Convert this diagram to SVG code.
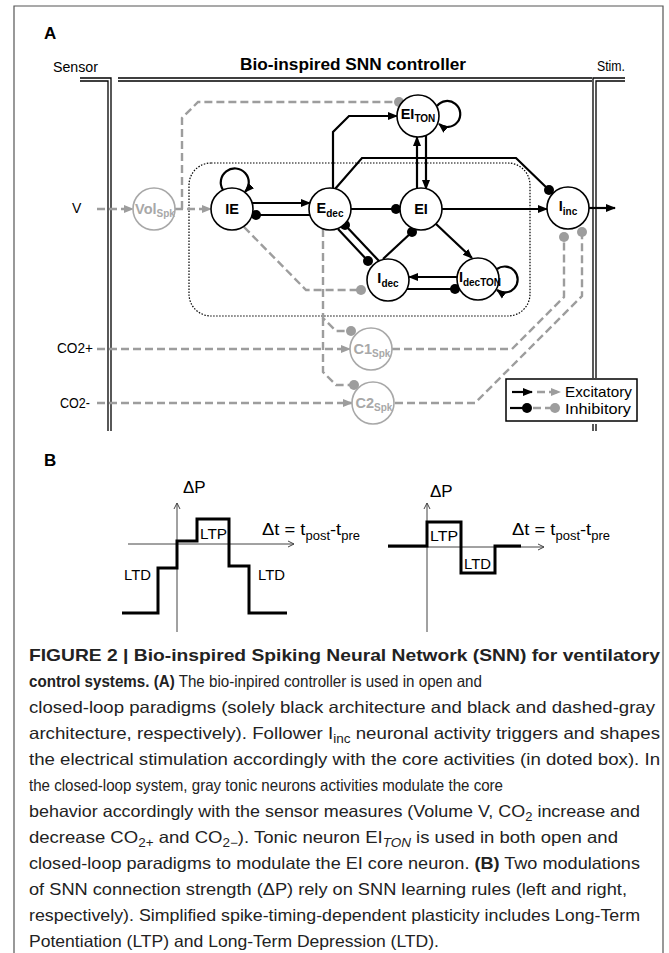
<svg xmlns="http://www.w3.org/2000/svg" width="669" height="953" viewBox="0 0 669 953">
<defs>
<style>
text{font-family:"Liberation Sans",Arial,sans-serif;}
.k{stroke:#000;stroke-width:2.2;fill:none}
.g{stroke:#9d9d9d;stroke-width:2.4;fill:none;stroke-dasharray:8 4}
.n{fill:#fff;stroke:#000;stroke-width:1.6}
.gn{fill:#fff;stroke:#a8a8a8;stroke-width:1.6}
.nl{font-weight:bold;font-size:14.5px;text-anchor:middle;fill:#000}
.gl{font-weight:bold;font-size:14.5px;text-anchor:middle;fill:#a8a8a8}
.sb{font-size:10px}
.dl{stroke:#000;stroke-width:1.3;fill:none}
.ax{stroke:#444;stroke-width:1;fill:none}
.st{stroke:#000;stroke-width:3;fill:none}
.lb{font-size:14px;fill:#000}
.cap{font-size:16.5px;fill:#222}
</style>
<marker id="ak" viewBox="0 0 10 10" refX="9" refY="5" markerWidth="10" markerHeight="10" markerUnits="userSpaceOnUse" orient="auto"><path d="M0 1 L10 5 L0 9 z" fill="#000"/></marker>
<marker id="ag" viewBox="0 0 10 10" refX="9" refY="5" markerWidth="10" markerHeight="10" markerUnits="userSpaceOnUse" orient="auto"><path d="M0 1 L10 5 L0 9 z" fill="#9d9d9d"/></marker>
<marker id="dk" viewBox="0 0 10 10" refX="5" refY="5" markerWidth="10" markerHeight="10" markerUnits="userSpaceOnUse"><circle cx="5" cy="5" r="5" fill="#000"/></marker>
<marker id="dg" viewBox="0 0 10 10" refX="5" refY="5" markerWidth="10" markerHeight="10" markerUnits="userSpaceOnUse"><circle cx="5" cy="5" r="5" fill="#9d9d9d"/></marker>
<marker id="ch" viewBox="0 0 8 8" refX="7" refY="4" markerWidth="8" markerHeight="8" markerUnits="userSpaceOnUse" orient="auto"><path d="M1 1 L7 4 L1 7" fill="none" stroke="#444" stroke-width="1"/></marker>
</defs>
<rect width="669" height="953" fill="#fff"/>
<path d="M14 953 V6 H663 V953" fill="none" stroke="#555" stroke-width="1.2"/>

<text x="44" y="39" font-weight="bold" font-size="17">A</text>
<text x="44" y="466" font-weight="bold" font-size="17">B</text>

<g id="frame">
<text class="lb" x="53" y="72" textLength="45" lengthAdjust="spacingAndGlyphs">Sensor</text>
<text class="lb" x="597" y="71" textLength="28" lengthAdjust="spacingAndGlyphs">Stim.</text>
<text x="240" y="70" font-weight="bold" font-size="16" textLength="226" lengthAdjust="spacingAndGlyphs">Bio-inspired SNN controller</text>
<path class="dl" d="M80 78 H111 V431 M80 81 H108 V431"/>
<path class="dl" d="M118 78 H592 M118 81 H592"/>
<path class="dl" d="M625 78 H593 V378 M625 81 H596 V378"/>
<path class="dl" d="M593 424 V431 M596 424 V431"/>
<text class="lb" x="72" y="213">V</text>
<text class="lb" x="57" y="353" textLength="36" lengthAdjust="spacingAndGlyphs">CO2+</text>
<text class="lb" x="60" y="408" textLength="30" lengthAdjust="spacingAndGlyphs">CO2-</text>
<rect x="189" y="163" width="341" height="153" rx="22" fill="none" stroke="#000" stroke-width="1.2" stroke-dasharray="1.5 1.5"/>
</g>

<g id="connectors">
<path class="k" d="M252 203 H310" marker-end="url(#ak)"/>
<path class="k" d="M310 215 H256" marker-end="url(#dk)"/>
<path class="k" d="M223 190 A14 14 0 1 1 245 192" marker-end="url(#ak)"/>
<path class="k" d="M333 188 V132 L349 116 H397" marker-end="url(#ak)"/>
<path class="k" d="M335 189 L362 158 H516 L549 190" marker-end="url(#dk)"/>
<path class="k" d="M351 209 H396" marker-end="url(#dk)"/>
<path class="k" d="M338 229 L368 261" marker-end="url(#dk)"/>
<path class="k" d="M379 261 L345 225" marker-end="url(#dk)"/>
<path class="k" d="M383 259 L412 232" marker-end="url(#dk)"/>
<path class="k" d="M436 224 L472 258" marker-end="url(#ak)"/>
<path class="k" d="M457 277 H409" marker-end="url(#ak)"/>
<path class="k" d="M407 289 H455" marker-end="url(#dk)"/>
<path class="k" d="M497 269 A13 13 0 1 1 497 290" marker-end="url(#ak)"/>
<path class="k" d="M417 189 V137" marker-end="url(#ak)"/>
<path class="k" d="M426 136 V189" marker-end="url(#ak)"/>
<path class="k" d="M437 106 A13 13 0 1 1 439 124" marker-end="url(#ak)"/>
<path class="k" d="M442 209 H547" marker-end="url(#ak)"/>
<path class="k" d="M589 208 H615" marker-end="url(#ak)"/>

<path class="g" d="M97 209 H133" marker-end="url(#ag)"/>
<path class="g" d="M175 209 H211" marker-end="url(#ag)"/>
<path class="g" d="M182 209 V118 L198 102 H399" marker-end="url(#dg)"/>
<path class="g" d="M244 227 L306 290 H361" marker-end="url(#dg)"/>
<path class="g" d="M323 229 V318 L336 331 H351" marker-end="url(#dg)"/>
<path class="g" d="M323 318 V372 L336 385 H354" marker-end="url(#dg)"/>
<path class="g" d="M97 349 H350" marker-end="url(#ag)"/>
<path class="g" d="M97 403 H352" marker-end="url(#ag)"/>
<path class="g" d="M392 349 H512 L564 297 V237" marker-end="url(#dg)"/>
<path class="g" d="M395 403 H475 L582 296 V232" marker-end="url(#dg)"/>
</g>

<g id="VolSpk"><circle class="gn" cx="154" cy="209" r="21"/><text class="gl" x="155" y="214">Vol<tspan class="sb" dy="3">Spk</tspan></text></g>
<g id="IE"><circle class="n" cx="232" cy="209" r="21"/><text class="nl" x="232" y="214">IE</text></g>
<g id="Edec"><circle class="n" cx="330" cy="209" r="21"/><text class="nl" x="330" y="213">E<tspan class="sb" dy="4">dec</tspan></text></g>
<g id="EI"><circle class="n" cx="421" cy="209" r="21"/><text class="nl" x="421" y="214">EI</text></g>
<g id="EITON"><circle class="n" cx="418" cy="116" r="21"/><text class="nl" x="418" y="119">EI<tspan class="sb" dy="3">TON</tspan></text></g>
<g id="Iinc"><circle class="n" cx="568" cy="208" r="21"/><text class="nl" x="568" y="211">I<tspan class="sb" dy="4">inc</tspan></text></g>
<g id="Idec"><circle class="n" cx="388" cy="280" r="21"/><text class="nl" x="388" y="283">I<tspan class="sb" dy="4">dec</tspan></text></g>
<g id="IdecTON"><circle class="n" cx="478" cy="279" r="21"/><text class="nl" x="480" y="282">I<tspan class="sb" dy="4">decTON</tspan></text></g>
<g id="C1Spk"><circle class="gn" cx="371" cy="349" r="21"/><text class="gl" x="372" y="354">C1<tspan class="sb" dy="3">Spk</tspan></text></g>
<g id="C2Spk"><circle class="gn" cx="373" cy="403" r="21"/><text class="gl" x="374" y="408">C2<tspan class="sb" dy="3">Spk</tspan></text></g>

<g id="legend">
<rect x="506" y="379" width="131" height="42" fill="#fff" stroke="#000" stroke-width="1.5"/>
<path class="k" d="M512 392 H532" marker-end="url(#ak)"/>
<path class="g" d="M537 392 H560" marker-end="url(#ag)"/>
<path class="k" d="M510 408 H527" marker-end="url(#dk)"/>
<path class="g" d="M533 408 H555" marker-end="url(#dg)"/>
<text x="565" y="397" font-size="15" textLength="67" lengthAdjust="spacingAndGlyphs">Excitatory</text>
<text x="565" y="414" font-size="15" textLength="66" lengthAdjust="spacingAndGlyphs">Inhibitory</text>
</g>

<g id="panelB">
<path class="ax" d="M177 632 V503" marker-end="url(#ch)"/>
<path class="ax" d="M128 544 H294" marker-end="url(#ch)"/>
<path class="st" d="M122 613 H158 V568 H177 V541 H197 V519 H229 V566 H249 V613 H287"/>
<text x="183" y="493" font-size="17">ΔP</text>
<text x="200" y="539" font-size="15" textLength="27" lengthAdjust="spacingAndGlyphs">LTP</text>
<text x="124" y="580" font-size="15" textLength="27" lengthAdjust="spacingAndGlyphs">LTD</text>
<text x="258" y="580" font-size="15" textLength="27" lengthAdjust="spacingAndGlyphs">LTD</text>
<text x="262" y="535" font-size="17" textLength="98" lengthAdjust="spacingAndGlyphs">Δt = t<tspan dy="5" font-size="12">post</tspan><tspan dy="-5">-t</tspan><tspan dy="5" font-size="12">pre</tspan></text>

<path class="ax" d="M427 632 V503" marker-end="url(#ch)"/>
<path class="ax" d="M388 547 H544" marker-end="url(#ch)"/>
<path class="st" d="M388 546 H427 V522 H461 V573 H495 V546 H521"/>
<text x="430" y="497" font-size="17">ΔP</text>
<text x="430" y="541" font-size="15" textLength="28" lengthAdjust="spacingAndGlyphs">LTP</text>
<text x="464" y="569" font-size="15" textLength="27" lengthAdjust="spacingAndGlyphs">LTD</text>
<text x="512" y="535" font-size="17" textLength="98" lengthAdjust="spacingAndGlyphs">Δt = t<tspan dy="5" font-size="12">post</tspan><tspan dy="-5">-t</tspan><tspan dy="5" font-size="12">pre</tspan></text>
</g>

<g id="caption">
<text class="cap" x="29" y="661" font-weight="bold" textLength="631" lengthAdjust="spacingAndGlyphs">FIGURE 2 | Bio-inspired Spiking Neural Network (SNN) for ventilatory</text>
<text class="cap" x="29" y="687" textLength="453" lengthAdjust="spacingAndGlyphs"><tspan font-weight="bold">control systems. (A)</tspan> The bio-inpired controller is used in open and</text>
<text class="cap" x="29" y="713" textLength="626" lengthAdjust="spacingAndGlyphs">closed-loop paradigms (solely black architecture and black and dashed-gray</text>
<text class="cap" x="29" y="739" textLength="631" lengthAdjust="spacingAndGlyphs">architecture, respectively). Follower I<tspan font-size="12" dy="4">inc</tspan><tspan dy="-4"> neuronal activity triggers and shapes</tspan></text>
<text class="cap" x="29" y="765" textLength="631" lengthAdjust="spacingAndGlyphs">the electrical stimulation accordingly with the core activities (in doted box). In</text>
<text class="cap" x="29" y="791" textLength="474" lengthAdjust="spacingAndGlyphs">the closed-loop system, gray tonic neurons activities modulate the core</text>
<text class="cap" x="29" y="817" textLength="611" lengthAdjust="spacingAndGlyphs">behavior accordingly with the sensor measures (Volume V, CO<tspan font-size="12" dy="4">2</tspan><tspan dy="-4"> increase and</tspan></text>
<text class="cap" x="29" y="843" textLength="589" lengthAdjust="spacingAndGlyphs">decrease CO<tspan font-size="12" dy="4">2+</tspan><tspan dy="-4"> and CO</tspan><tspan font-size="12" dy="4">2−</tspan><tspan dy="-4">). Tonic neuron EI</tspan><tspan font-size="12" font-style="italic" dy="4">TON</tspan><tspan dy="-4"> is used in both open and</tspan></text>
<text class="cap" x="29" y="869" textLength="611" lengthAdjust="spacingAndGlyphs">closed-loop paradigms to modulate the EI core neuron. <tspan font-weight="bold">(B)</tspan> Two modulations</text>
<text class="cap" x="29" y="895" textLength="598" lengthAdjust="spacingAndGlyphs">of SNN connection strength (ΔP) rely on SNN learning rules (left and right,</text>
<text class="cap" x="29" y="921" textLength="611" lengthAdjust="spacingAndGlyphs">respectively). Simplified spike-timing-dependent plasticity includes Long-Term</text>
<text class="cap" x="29" y="947" textLength="410" lengthAdjust="spacingAndGlyphs">Potentiation (LTP) and Long-Term Depression (LTD).</text>
</g>
</svg>
